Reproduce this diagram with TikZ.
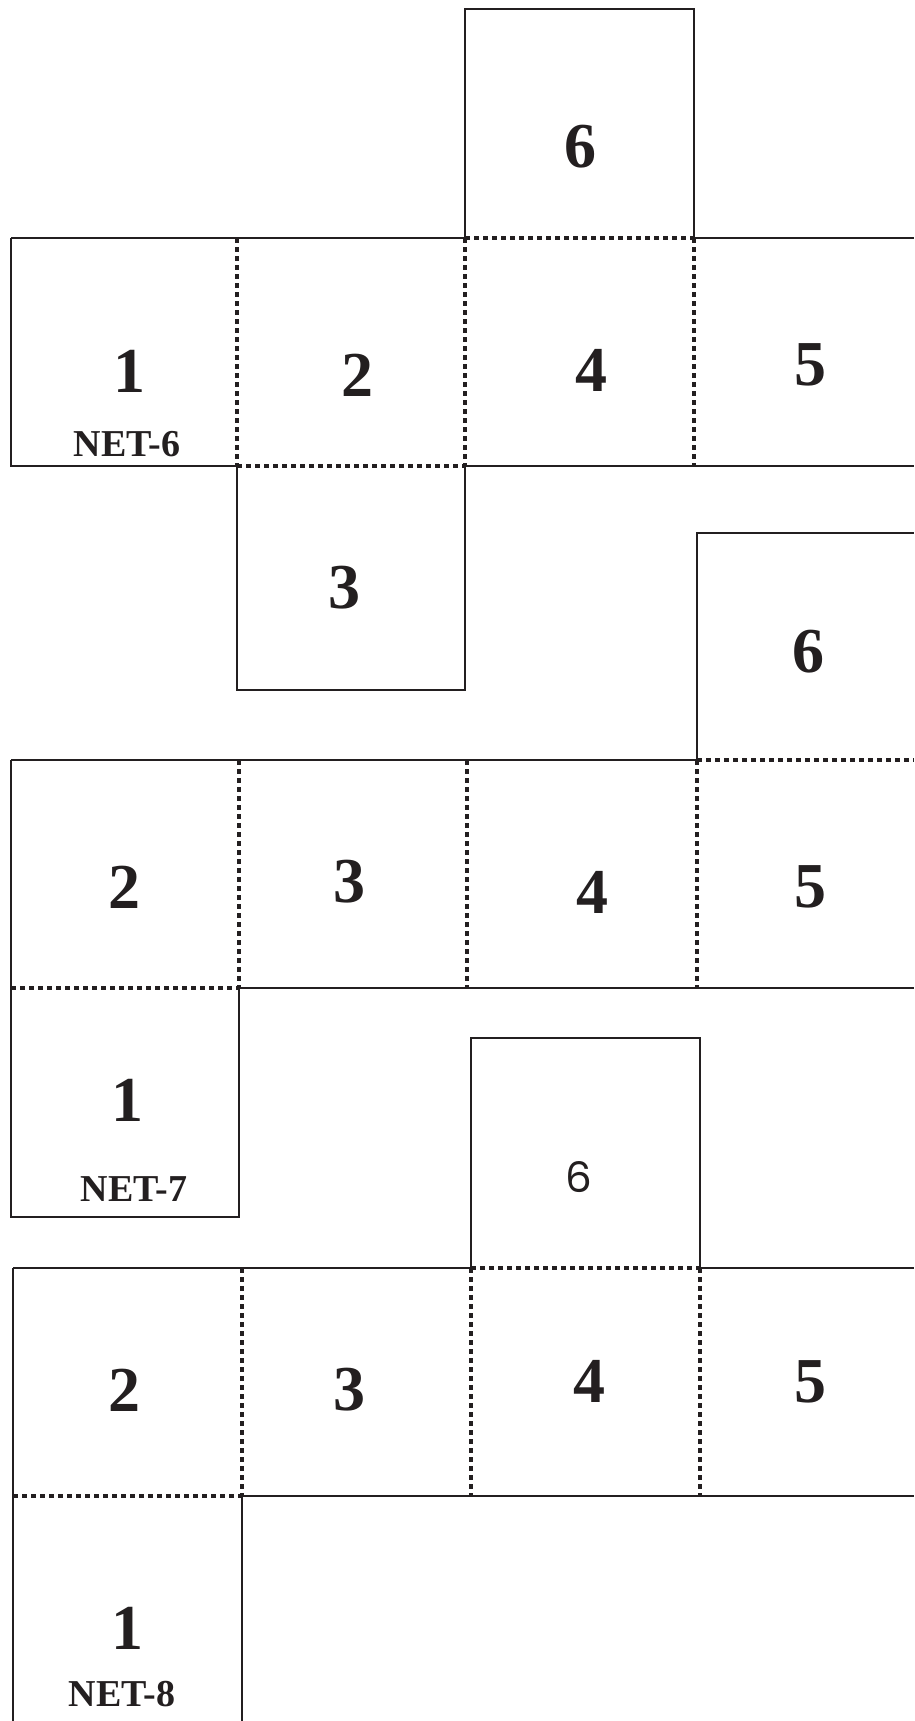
\documentclass[tikz,border=0pt]{standalone}
\usepackage{fontspec}
\setmainfont{Liberation Serif}
\newfontfamily\sixfont{Poppins}
\definecolor{ink}{HTML}{231F20}
\begin{document}
\begin{tikzpicture}[x=1pt,y=-1pt,
  cut/.style={line width=2.8pt, draw=ink, line join=miter},
  fold/.style={line width=3.4pt, draw=ink, dash pattern=on 5pt off 4pt},
  big/.style={font=\bfseries\fontsize{64}{70}\selectfont, text=ink, inner sep=0pt},
  tag/.style={font=\bfseries\fontsize{38}{42}\selectfont, text=ink, inner sep=0pt},
  sixsans/.style={font=\sixfont\fontsize{42}{46}\selectfont, text=ink, inner sep=0pt}]
\useasboundingbox (0,0) rectangle (914,1721);

% ---------------- NET-6 ----------------
\draw[cut] (465,238) -- (465,9) -- (694,9) -- (694,238);
\draw[cut] (11,238) -- (465,238);
\draw[cut] (694,238) -- (914,238);
\draw[cut] (237,466) -- (11,466) -- (11,238);
\draw[cut] (465,466) -- (914,466);
\draw[cut] (237,466) -- (237,690) -- (465,690) -- (465,466);
\draw[fold] (237,238) -- (237,466);
\draw[fold] (465,238) -- (465,466);
\draw[fold] (694,238) -- (694,466);
\draw[fold] (465,238) -- (694,238);
\draw[fold] (237,466) -- (465,466);

\node[big] (a6) at (580,147) {6};
\node[big] (a1) at (129,371) {1};
\node[tag] (anet) at (127,444) {NET-6};
\node[big] (a2) at (357,375) {2};
\node[big] (a4) at (591,370) {4};
\node[big] (a5) at (810,365) {5};
\node[big] (a3) at (344,588) {3};

% ---------------- NET-7 ----------------
\draw[cut] (697,760) -- (697,533) -- (914,533);
\draw[cut] (11,760) -- (697,760);
\draw[cut] (11,760) -- (11,1217) -- (239,1217) -- (239,988) -- (914,988);
\draw[fold] (239,760) -- (239,988);
\draw[fold] (467,760) -- (467,988);
\draw[fold] (697,760) -- (697,988);
\draw[fold] (697,760) -- (914,760);
\draw[fold] (11,988) -- (239,988);

\node[big] (b6) at (808,652) {6};
\node[big] (b2) at (124,887) {2};
\node[big] (b3) at (349,882) {3};
\node[big] (b4) at (592,892) {4};
\node[big] (b5) at (810,887) {5};
\node[big] (b1) at (127,1100) {1};
\node[tag] (bnet) at (134,1189) {NET-7};

% ---------------- NET-8 ----------------
\draw[cut] (471,1268) -- (471,1038) -- (700,1038) -- (700,1268);
\draw[cut] (13,1268) -- (471,1268);
\draw[cut] (700,1268) -- (914,1268);
\draw[cut] (13,1268) -- (13,1721);
\draw[cut] (242,1721) -- (242,1496) -- (914,1496);
\draw[fold] (242,1268) -- (242,1496);
\draw[fold] (471,1268) -- (471,1496);
\draw[fold] (700,1268) -- (700,1496);
\draw[fold] (471,1268) -- (700,1268);
\draw[fold] (13,1496) -- (242,1496);

\node[sixsans] (c6) at (579,1177) {6};
\node[big] (c2) at (124,1390) {2};
\node[big] (c3) at (349,1390) {3};
\node[big] (c4) at (589,1381) {4};
\node[big] (c5) at (810,1382) {5};
\node[big] (c1) at (127,1628) {1};
\node[tag] (cnet) at (122,1694) {NET-8};
\end{tikzpicture}
\end{document}
